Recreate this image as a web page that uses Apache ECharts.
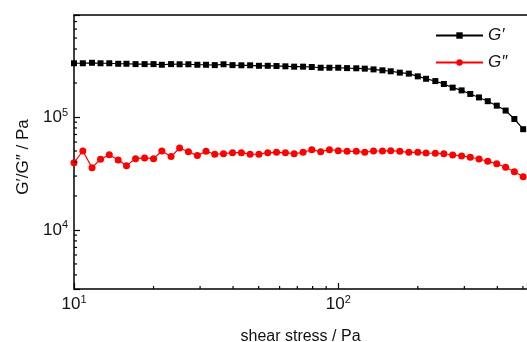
<!DOCTYPE html>
<html>
<head>
<meta charset="utf-8">
<script src="https://cdn.jsdelivr.net/npm/echarts@6/dist/echarts.min.js"></script>
<style>
  html, body { margin: 0; padding: 0; background: #fff; }
  #chart { width: 527px; height: 342px; }
</style>
</head>
<body>
<div id="chart"></div>
<script>
// shear stress / Pa
const stress = [10, 10.8, 11.7, 12.6, 13.6, 14.7, 15.8, 17.1, 18.5, 20.0, 21.5, 23.3, 25.1, 27.1, 29.3, 31.6,
  34.1, 36.8, 39.8, 43.0, 46.4, 50.1, 54.1, 58.4, 63.1, 68.1, 73.6, 79.4, 85.8, 92.6, 100, 108, 117, 126,
  136, 147, 158, 171, 185, 200, 215, 233, 251, 271, 293, 316, 341, 368, 398, 430, 464, 501];

// storage modulus G' / Pa
const gPrime = [299000, 299000, 302000, 299000, 299000, 296000, 296000, 294000, 294000, 294000, 290000,
  294000, 293000, 293000, 290000, 290000, 288000, 293000, 288000, 287000, 287000, 284000, 284000, 283000,
  281000, 279000, 279000, 277000, 273000, 273000, 273000, 271000, 270000, 268000, 264000, 259000, 254000,
  247000, 242000, 229000, 218000, 208000, 196000, 182000, 172000, 160000, 149000, 138000, 126000, 114000,
  96000, 78000];

// loss modulus G'' / Pa
const gDouble = [39400, 50000, 35600, 42300, 46400, 41600, 37100, 42800, 43400, 42800, 50000, 44600, 53200,
  49300, 45500, 49700, 46800, 47300, 48300, 48300, 46800, 46800, 48300, 48700, 48300, 47300, 48700, 51300,
  49300, 51300, 50300, 49700, 49700, 48700, 50000, 50000, 50300, 49700, 48700, 48700, 48000, 47700, 47300,
  46100, 45200, 44000, 42500, 40600, 38600, 35900, 32800, 29600];

const xRange = [10, 518];
const yRange = [3000, 800000];
const xMinorTicks = [20, 30, 40, 50, 60, 70, 80, 90, 200, 300, 400, 500];
const yMinorTicks = [4000, 5000, 6000, 7000, 8000, 9000, 20000, 30000, 40000, 50000, 60000, 70000, 80000,
  90000, 200000, 300000, 400000, 500000, 600000, 700000];

const font = "'Liberation Sans', Arial, sans-serif";
const ink = "#111";

function powLabel(v) {
  const e = Math.log10(v);
  if (Math.abs(e - Math.round(e)) > 1e-6) return "";
  return "{b|10}{s|" + Math.round(e) + "}";
}
const powRich = {
  b: { fontSize: 17, fontFamily: font, color: ink, lineHeight: 20 },
  s: { fontSize: 11, fontFamily: font, color: ink, lineHeight: 12, verticalAlign: "top" },
};

const chart = echarts.init(document.getElementById("chart"));
chart.setOption({
  backgroundColor: "#fff",
  animation: false,
  grid: { left: 74, right: 0, top: 15, bottom: 53, outerBoundsMode: "none", containLabel: false },
  legend: {
    orient: "vertical",
    left: 430,
    top: 22,
    itemWidth: 47,
    itemHeight: 8,
    itemGap: 10,
    textStyle: { fontFamily: font, fontSize: 17, fontStyle: "italic", color: ink },
    data: ["G\u2032", "G\u2033"],
  },
  xAxis: [
    {
      type: "log",
      min: xRange[0],
      max: xRange[1],
      name: "shear stress / Pa",
      nameLocation: "middle",
      nameGap: 40,
      nameTextStyle: { fontFamily: font, fontSize: 16, color: ink },
      axisLine: { lineStyle: { color: "#000", width: 1.5 } },
      axisTick: { inside: true, length: 6, lineStyle: { color: "#000", width: 1.2 } },
      axisLabel: { margin: 5, formatter: powLabel, rich: powRich },
      splitLine: { show: false },
    },
    {
      type: "log",
      position: "top",
      min: xRange[0],
      max: xRange[1],
      axisLine: { lineStyle: { color: "#000", width: 1.5 } },
      axisTick: { show: false },
      axisLabel: { show: false },
      splitLine: { show: false },
    },
  ],
  yAxis: {
    type: "log",
    min: yRange[0],
    max: yRange[1],
    name: "G\u2032/G\u2033 / Pa",
    nameLocation: "middle",
    nameGap: 42,
    nameTextStyle: { fontFamily: font, fontSize: 17, color: ink, padding: [0, 10, 0, 0] },
    axisLine: { show: true, lineStyle: { color: "#000", width: 1.5 } },
    axisTick: { show: true, inside: true, length: 6, lineStyle: { color: "#000", width: 1.2 } },
    axisLabel: { margin: 6, formatter: powLabel, rich: powRich },
    splitLine: { show: false },
  },
  series: [
    {
      name: "G\u2032",
      type: "line",
      data: stress.map((x, i) => [x, gPrime[i]]),
      symbol: "rect",
      symbolSize: 6,
      itemStyle: { color: "#000" },
      lineStyle: { color: "#000", width: 1.2 },
    },
    {
      name: "G\u2033",
      type: "line",
      data: stress.map((x, i) => [x, gDouble[i]]),
      symbol: "circle",
      symbolSize: 7,
      itemStyle: { color: "#ff0000" },
      lineStyle: { color: "#ff0000", width: 1.2 },
    },
  ],
});

// minor ticks of the log axes, placed through the chart's own scales
const x0 = chart.convertToPixel({ xAxisIndex: 0 }, xRange[0]);
const y0 = chart.convertToPixel({ yAxisIndex: 0 }, yRange[0]);
const minor = [];
xMinorTicks.forEach((v) => {
  const px = chart.convertToPixel({ xAxisIndex: 0 }, v);
  minor.push({ type: "line", shape: { x1: px, y1: y0, x2: px, y2: y0 - 3 }, style: { stroke: "#000", lineWidth: 1.2 }, z: 10 });
});
yMinorTicks.forEach((v) => {
  const py = chart.convertToPixel({ yAxisIndex: 0 }, v);
  minor.push({ type: "line", shape: { x1: x0, y1: py, x2: x0 + 3, y2: py }, style: { stroke: "#000", lineWidth: 1.2 }, z: 10 });
});
chart.setOption({ graphic: minor });
</script>
</body>
</html>
